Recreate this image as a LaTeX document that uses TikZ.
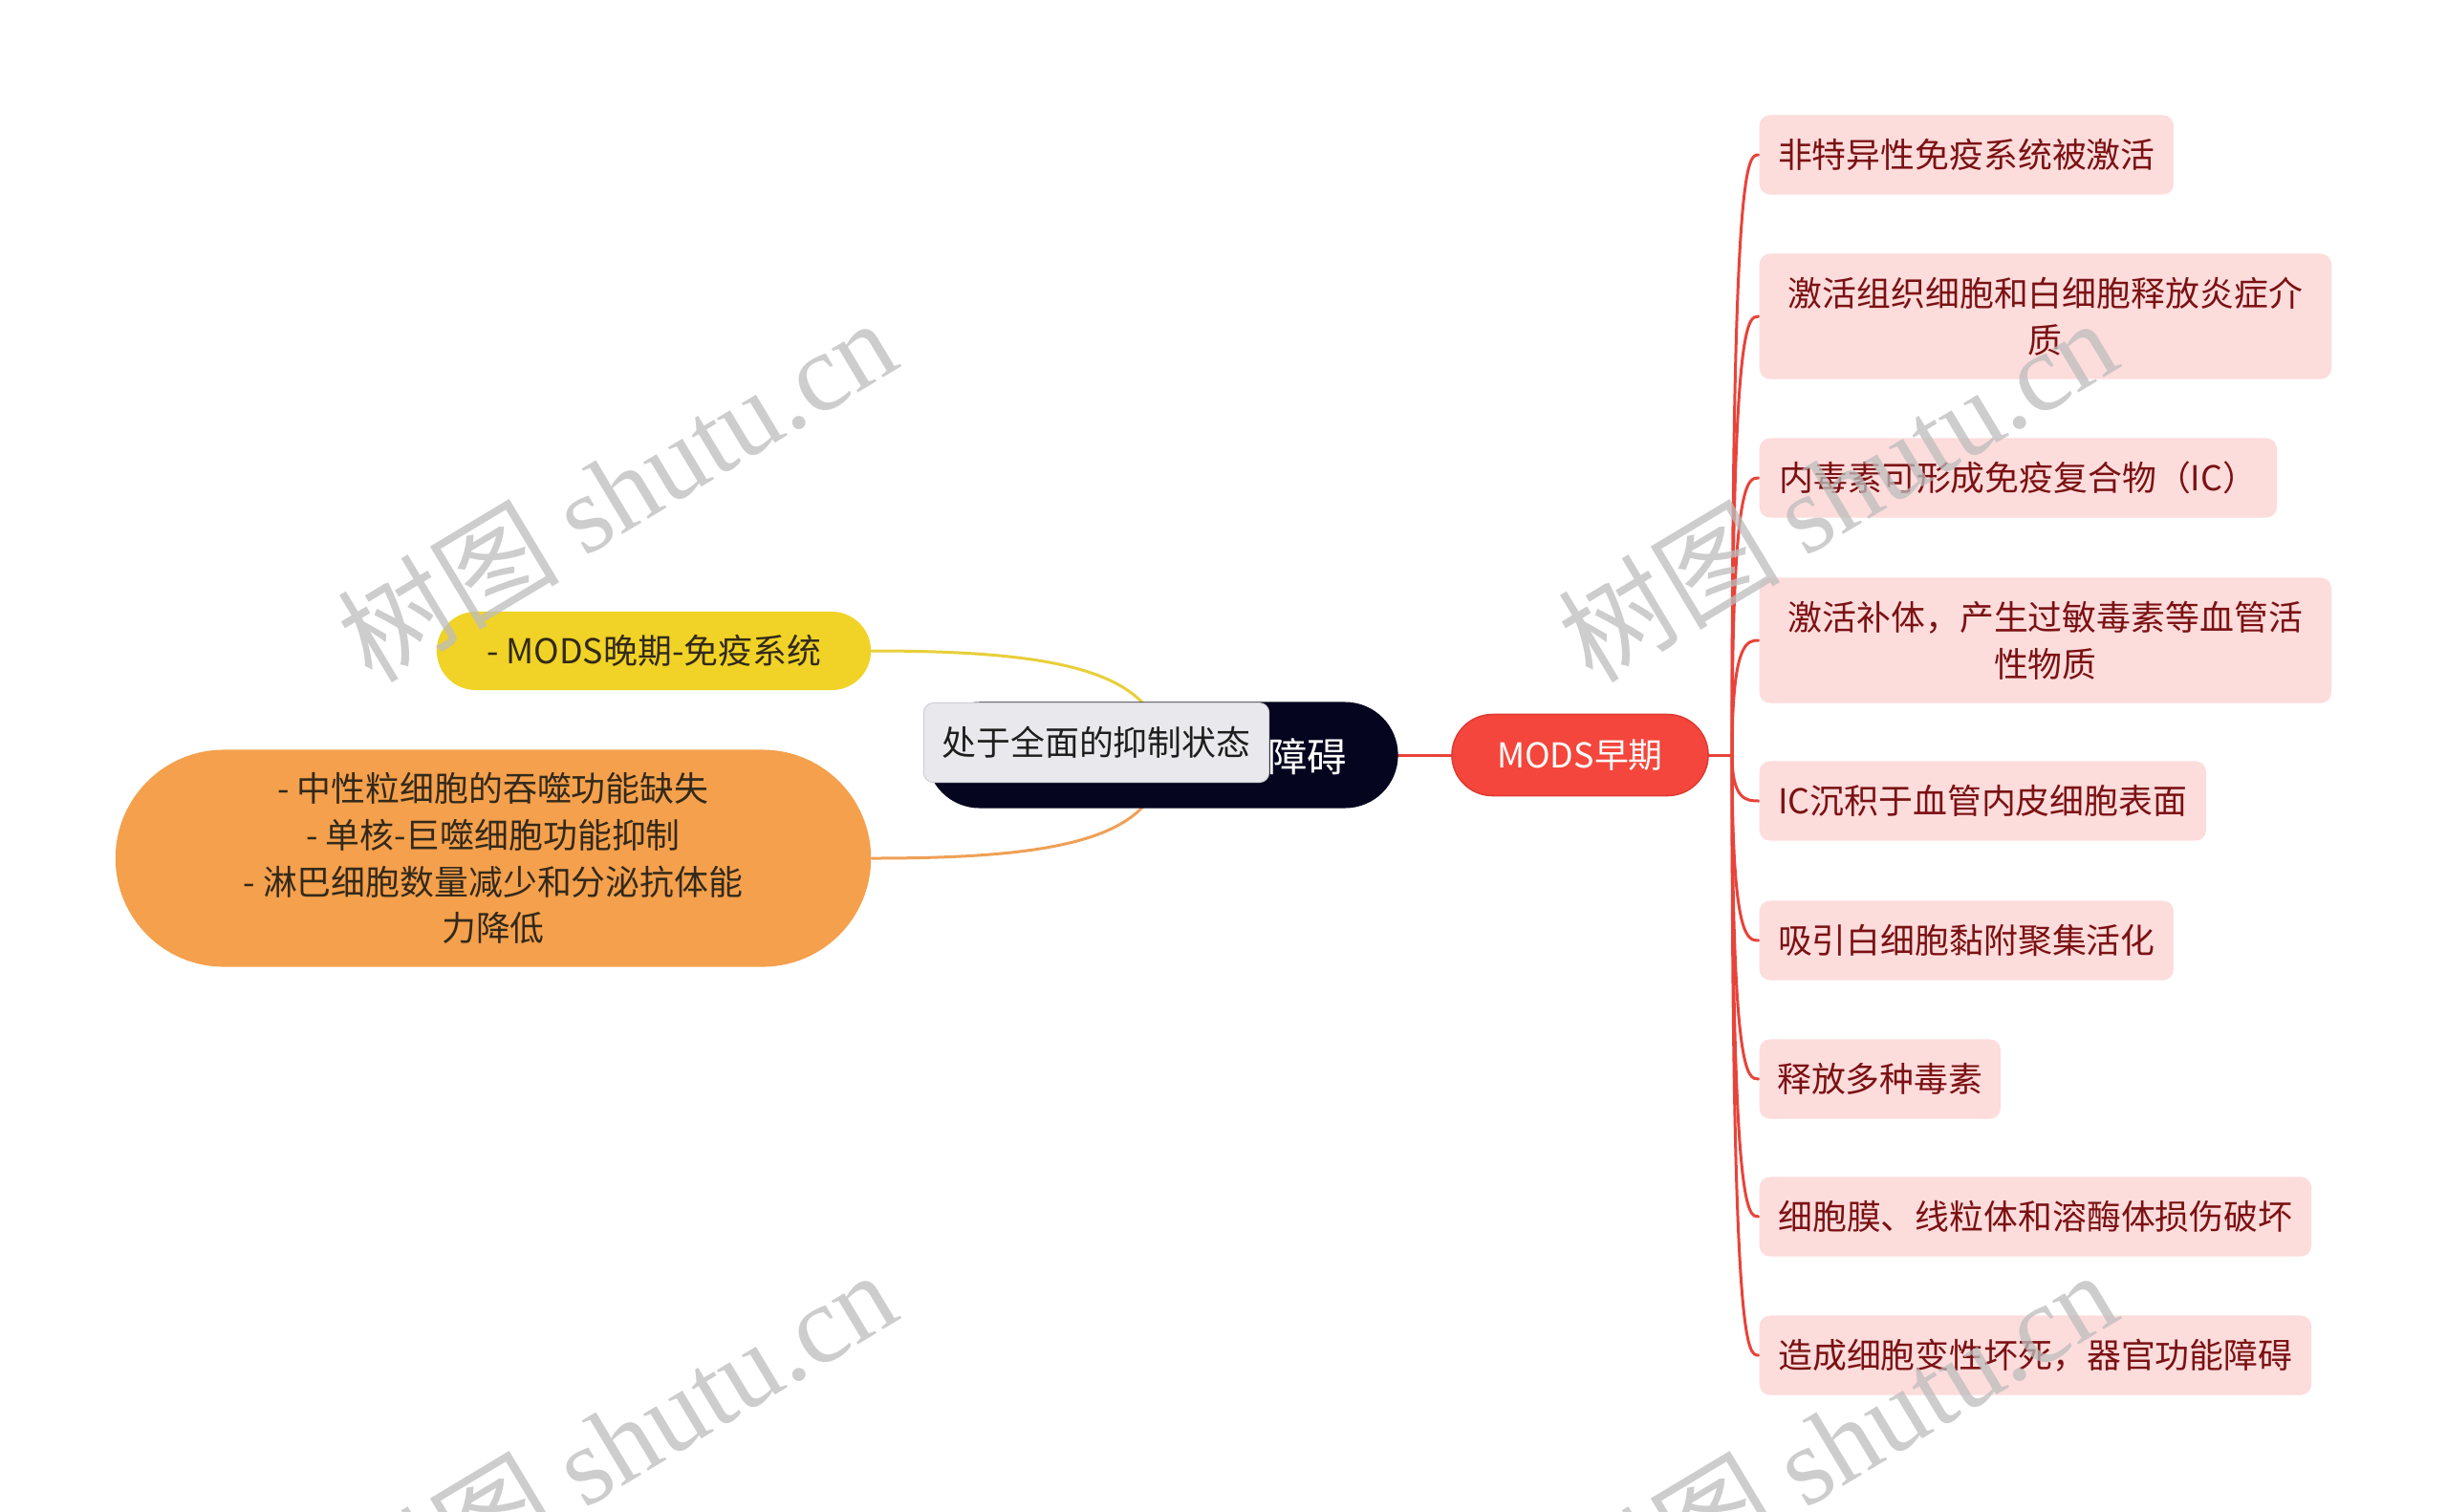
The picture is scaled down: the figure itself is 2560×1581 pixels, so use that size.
\documentclass[tikz,border=0pt]{standalone}
\usepackage{fontspec}
\setmainfont{Noto Sans CJK SC}
\newfontfamily\wmlatin{Liberation Serif}
\newfontfamily\wmcjk{Noto Sans CJK SC}
\usetikzlibrary{shapes.misc}
\pgfdeclarelayer{bg}
\pgfsetlayers{bg,main}
\definecolor{rootbg}{HTML}{05051F}
\definecolor{labbg}{HTML}{E9E8EC}
\definecolor{labline}{HTML}{CFCFD3}
\definecolor{labtext}{HTML}{1E1E1E}
\definecolor{earlybg}{HTML}{F4463C}
\definecolor{earlyline}{HTML}{DE3A31}
\definecolor{redline}{HTML}{E8433A}
\definecolor{leafbg}{HTML}{FDDCDC}
\definecolor{leaftext}{HTML}{7B1113}
\definecolor{latebg}{HTML}{F0D326}
\definecolor{lateline}{HTML}{E8CF3A}
\definecolor{orngbg}{HTML}{F4A04C}
\definecolor{orngline}{HTML}{EFA055}
\definecolor{darktext}{HTML}{33291A}
\definecolor{wmgray}{HTML}{BDBDBD}
\begin{document}
\begin{tikzpicture}[x=0.01cm,y=-0.01cm,
  base/.style={inner sep=0pt, align=center, font=\fontsize{10.2pt}{13.9pt}\selectfont},
  leaf/.style={base, rectangle, rounded corners=0.11cm, fill=leafbg, text=leaftext,
     minimum height=0.83cm, anchor=west},
  leaftall/.style={leaf, minimum height=1.31cm},
  pill/.style={base, rounded rectangle},
  conn/.style={line width=0.03cm, line cap=round},
  wm/.style={inner sep=0pt, text=wmgray, text opacity=0.75, rotate=31,
     font=\fontsize{33pt}{33pt}\selectfont}
]
\useasboundingbox (0,0) rectangle (2560,1581);
\begin{pgfonlayer}{bg}
  \fill[white] (0,0) rectangle (2560,1581);
\end{pgfonlayer}

% root and its overlapping label
\node[pill, fill=rootbg, minimum width=4.93cm, minimum height=1.11cm] (root) at (1216,790) {};
\node[inner sep=0pt, text=white, anchor=east, font=\fontsize{11.8pt}{14pt}\selectfont] (roottxt) at (1410,792) {障碍};
\node[base, rectangle, rounded corners=0.1cm, fill=labbg, draw=labline, line width=0.01cm,
      text=labtext, minimum width=3.61cm, minimum height=0.83cm] (lab) at (1147,777) {处于全面的抑制状态};

% right main branch
\node[pill, fill=earlybg, draw=earlyline, line width=0.015cm, text=white,
      minimum width=2.68cm, minimum height=0.85cm] (early) at (1653,790) {MODS早期};

% left branches
\node[pill, fill=latebg, text=darktext, minimum width=4.54cm, minimum height=0.82cm] (late) at (684,681) {- MODS晚期-免疫系统};
\node[pill, fill=orngbg, text=darktext, minimum width=7.9cm, minimum height=2.27cm] (orng) at (516,898)
  {- 中性粒细胞的吞噬功能缺失\\- 单核-巨噬细胞功能抑制\\- 淋巴细胞数量减少和分泌抗体能\\力降低};

% leaves
\node[leaf, minimum width=4.33cm] (r1) at (1840,162) {非特异性免疫系统被激活};
\node[leaftall, minimum width=5.98cm] (r2) at (1840,331) {激活组织细胞和白细胞释放炎症介\\质};
\node[leaf, minimum width=5.41cm] (r3) at (1840,500) {内毒素可形成免疫复合物（IC）};
\node[leaftall, minimum width=5.98cm] (r4) at (1840,670) {激活补体，产生过敏毒素等血管活\\性物质};
\node[leaf, minimum width=4.67cm] (r5) at (1840,838) {IC沉积于血管内皮细胞表面};
\node[leaf, minimum width=4.33cm] (r6) at (1840,984) {吸引白细胞黏附聚集活化};
\node[leaf, minimum width=2.52cm] (r7) at (1840,1129) {释放多种毒素};
\node[leaf, minimum width=5.77cm] (r8) at (1840,1273) {细胞膜、线粒体和溶酶体损伤破坏};
\node[leaf, minimum width=5.77cm] (r9) at (1840,1418) {造成细胞变性坏死，器官功能障碍};

\coordinate (hub) at (1812,790);

\begin{pgfonlayer}{bg}
  \draw[conn, draw=redline] (root.center) -- (early.center) -- (hub);
  \foreach \n in {r1,r2,r3,r4,r5,r6,r7,r8,r9}
    \draw[conn, draw=redline] (hub) .. controls (hub |- \n.west) and ([xshift=-0.12cm]\n.west) .. (\n.west);
  \draw[conn, draw=lateline] (late.east) .. controls (1100,681) and (1216,700) .. (root.center);
  \draw[conn, draw=orngline] (orng.east) .. controls (1100,898) and (1216,880) .. (root.center);
\end{pgfonlayer}

% watermarks
\node[wm] (wm1) at (645,512) {{\wmcjk 树图} {\wmlatin shutu.cn}};
\node[wm] (wm2) at (1922,512) {{\wmcjk 树图} {\wmlatin shutu.cn}};
\node[wm] (wm3) at (645,1508) {{\wmcjk 树图} {\wmlatin shutu.cn}};
\node[wm] (wm4) at (1922,1508) {{\wmcjk 树图} {\wmlatin shutu.cn}};
\end{tikzpicture}
\end{document}
